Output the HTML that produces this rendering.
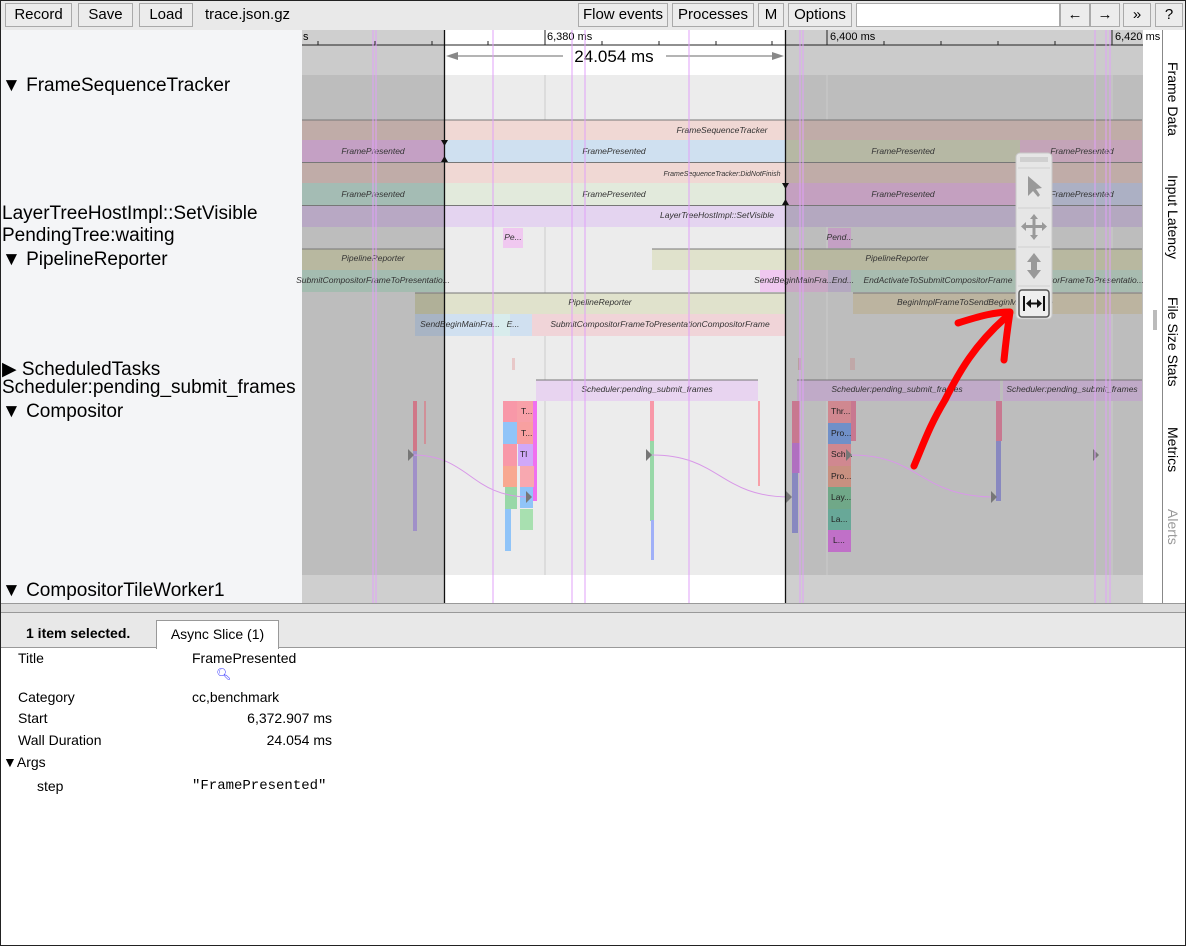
<!DOCTYPE html>
<html><head><meta charset="utf-8"><style>
*{box-sizing:border-box;margin:0;padding:0}
body{width:1186px;height:946px;position:relative;overflow:hidden;background:#fff;font-family:"Liberation Sans",sans-serif;color:#000}
.abs{position:absolute}
.btn{position:absolute;top:3px;height:24px;border:1px solid #aaa;background:#ececec;font-size:15px;line-height:22px;text-align:center}
.lbl{position:absolute;left:2px;font-size:19px;white-space:nowrap}
.side{position:absolute;left:1165px;writing-mode:vertical-rl;font-size:14px;white-space:nowrap}
.k{position:absolute;left:18px;font-size:14px}
.v{position:absolute;font-size:14px}
</style></head><body>
<div class="abs" style="left:0;top:0;width:1186px;height:946px;border:1px solid #222;z-index:50;pointer-events:none"></div>
<div class="abs" style="left:0;top:0;width:1186px;height:30px;background:#e9e9e9"></div>
<div class="btn" style="left:5px;width:67px">Record</div>
<div class="btn" style="left:78px;width:55px">Save</div>
<div class="btn" style="left:139px;width:54px">Load</div>
<div class="abs" style="left:205px;top:6px;font-size:15px">trace.json.gz</div>
<div class="btn" style="left:578px;width:90px">Flow events</div>
<div class="btn" style="left:672px;width:82px">Processes</div>
<div class="btn" style="left:758px;width:26px">M</div>
<div class="btn" style="left:788px;width:64px">Options</div>
<div class="btn" style="left:856px;width:204px;background:#fff"></div>
<div class="btn" style="left:1060px;width:30px">←</div>
<div class="btn" style="left:1090px;width:30px">→</div>
<div class="btn" style="left:1123px;width:28px">»</div>
<div class="btn" style="left:1155px;width:28px">?</div>
<div class="abs" style="left:0;top:30px;width:302px;height:573px;background:#f4f5f7"></div>
<div class="lbl" style="top:75px">▼ FrameSequenceTracker</div>
<div class="lbl" style="top:203px">LayerTreeHostImpl::SetVisible</div>
<div class="lbl" style="top:225px">PendingTree:waiting</div>
<div class="lbl" style="top:249px">▼ PipelineReporter</div>
<div class="lbl" style="top:358px">▶ ScheduledTasks</div>
<div class="lbl" style="top:377px">Scheduler:pending_submit_frames</div>
<div class="lbl" style="top:401px">▼ Compositor</div>
<div class="lbl" style="top:580px">▼ CompositorTileWorker1</div>
<svg class="abs" style="left:0;top:0" width="1186" height="946" font-family="Liberation Sans, sans-serif">
<rect x="302" y="30" width="841" height="15" fill="#cfcfcf"/>
<rect x="445" y="30" width="340" height="15" fill="#fff"/>
<rect x="302" y="45" width="841" height="30" fill="#cbcbcb"/>
<rect x="445" y="45" width="340" height="30" fill="#fff"/>
<rect x="302" y="75" width="841" height="500" fill="#bdbdbd"/>
<rect x="445" y="75" width="340" height="500" fill="#ececec"/>
<rect x="302" y="575" width="841" height="28" fill="#cfcfcf"/>
<rect x="445" y="575" width="340" height="28" fill="#fff"/>
<line x1="302" y1="45" x2="1143" y2="45" stroke="#222"/>
<g stroke="#222"><line x1="545" y1="30" x2="545" y2="45"/><line x1="827" y1="30" x2="827" y2="45"/><line x1="1112" y1="30" x2="1112" y2="45"/></g>
<g stroke="#222"><line x1="318" y1="41" x2="318" y2="45"/><line x1="375" y1="41" x2="375" y2="45"/><line x1="432" y1="41" x2="432" y2="45"/><line x1="488" y1="41" x2="488" y2="45"/><line x1="602" y1="41" x2="602" y2="45"/><line x1="659" y1="41" x2="659" y2="45"/><line x1="716" y1="41" x2="716" y2="45"/><line x1="772" y1="41" x2="772" y2="45"/><line x1="884" y1="41" x2="884" y2="45"/><line x1="941" y1="41" x2="941" y2="45"/><line x1="998" y1="41" x2="998" y2="45"/><line x1="1055" y1="41" x2="1055" y2="45"/></g>
<g font-size="11"><text x="303" y="40">s</text><text x="547" y="40">6,380 ms</text><text x="830" y="40">6,400 ms</text><text x="1115" y="40">6,420 ms</text></g>
<g stroke="#888" stroke-width="1.3"><line x1="450" y1="56" x2="563" y2="56"/><line x1="666" y1="56" x2="780" y2="56"/></g>
<polygon points="446,56 458,52 458,60" fill="#888"/><polygon points="784,56 772,52 772,60" fill="#888"/>
<text x="614" y="62" font-size="17" text-anchor="middle">24.054 ms</text>
<g stroke="#ccc"><line x1="545" y1="75" x2="545" y2="575"/><line x1="827" y1="75" x2="827" y2="575"/><line x1="1112" y1="75" x2="1112" y2="575"/></g>
<g stroke="none">
<rect x="302" y="120" width="143" height="20" fill="#c0aca8"/><rect x="445" y="120" width="340" height="20" fill="#f0d8d4"/><rect x="785" y="120" width="357" height="20" fill="#c0aca8"/>
<rect x="302" y="140" width="143" height="22" fill="#c4a0c4"/><rect x="445" y="140" width="340" height="22" fill="#cfe0f0"/><rect x="785" y="140" width="235" height="22" fill="#b6b8a4"/><rect x="1020" y="140" width="122" height="22" fill="#c4a4b8"/>
<rect x="302" y="163" width="143" height="20" fill="#c0aca8"/><rect x="445" y="163" width="340" height="20" fill="#f0d8d4"/><rect x="785" y="163" width="357" height="20" fill="#c0aca8"/>
<rect x="302" y="183" width="143" height="22" fill="#a4bcb4"/><rect x="445" y="183" width="340" height="22" fill="#e2eadc"/><rect x="785" y="183" width="235" height="22" fill="#c4a0c0"/><rect x="1020" y="183" width="122" height="22" fill="#acb0c4"/>
<rect x="302" y="206" width="143" height="21" fill="#b8a8c4"/><rect x="445" y="206" width="340" height="21" fill="#e4d4f0"/><rect x="785" y="206" width="357" height="21" fill="#b4a8c0"/>
<rect x="503" y="228" width="20" height="20" fill="#f0c8f0"/><rect x="828" y="228" width="23" height="20" fill="#c4a0c4"/>
<rect x="302" y="249" width="143" height="21" fill="#b8b8a0"/><rect x="652" y="249" width="133" height="21" fill="#e0e2cc"/><rect x="785" y="249" width="357" height="21" fill="#b8b8a0"/>
<rect x="302" y="270" width="143" height="22" fill="#a4bcb0"/><rect x="760" y="270" width="25" height="22" fill="#f0c8f0"/><rect x="785" y="270" width="43" height="22" fill="#c8a8c4"/><rect x="828" y="270" width="23" height="22" fill="#b4a8c0"/><rect x="851" y="270" width="291" height="22" fill="#a8bcb0"/>
<rect x="415" y="293" width="30" height="21" fill="#b0b098"/><rect x="445" y="293" width="340" height="21" fill="#e0e2cc"/><rect x="853" y="293" width="289" height="21" fill="#bcb4a0"/>
<rect x="415" y="314" width="30" height="22" fill="#a8b4c4"/><rect x="445" y="314" width="47" height="22" fill="#d0e0f0"/><rect x="492" y="314" width="18" height="22" fill="#d8ecec"/><rect x="510" y="314" width="22" height="22" fill="#d0e0f0"/><rect x="532" y="314" width="253" height="22" fill="#f0d4d8"/>
<rect x="512" y="358" width="3" height="12" fill="#e8c8c8"/><rect x="798" y="358" width="3" height="12" fill="#b8a0a0"/><rect x="850" y="358" width="5" height="12" fill="#c0a8a8"/>
<rect x="536" y="380" width="222" height="21" fill="#e8d4f0"/><rect x="797" y="380" width="203" height="21" fill="#c0aac8"/><rect x="1003" y="380" width="139" height="21" fill="#c0aac8"/>
</g>
<g stroke="#777"><line x1="302" y1="120" x2="1142" y2="120"/><line x1="302" y1="162.5" x2="1142" y2="162.5"/><line x1="302" y1="205.5" x2="1142" y2="205.5"/><line x1="302" y1="249" x2="445" y2="249"/><line x1="652" y1="249" x2="1142" y2="249"/><line x1="415" y1="293" x2="785" y2="293"/><line x1="853" y1="293" x2="1142" y2="293"/><line x1="536" y1="380" x2="758" y2="380"/><line x1="797" y1="380" x2="1142" y2="380"/></g>
<g font-size="8.5" font-style="italic" fill="#333" text-anchor="middle">
<text x="722" y="133">FrameSequenceTracker</text>
<text x="373" y="154">FramePresented</text><text x="614" y="154">FramePresented</text><text x="903" y="154">FramePresented</text><text x="1082" y="154">FramePresented</text>
<text x="722" y="176" font-size="7">FrameSequenceTracker:DidNotFinish</text>
<text x="373" y="197">FramePresented</text><text x="614" y="197">FramePresented</text><text x="903" y="197">FramePresented</text><text x="1082" y="197">FramePresented</text>
<text x="717" y="218">LayerTreeHostImpl::SetVisible</text>
<text x="513" y="240">Pe...</text><text x="840" y="240">Pend...</text>
<text x="373" y="261">PipelineReporter</text><text x="897" y="261">PipelineReporter</text>
<text x="373" y="283">SubmitCompositorFrameToPresentatio...</text><text x="794" y="283">SendBeginMainFra...</text><text x="843" y="283">End...</text><text x="938" y="283">EndActivateToSubmitCompositorFrame</text><text x="1088" y="283">...ositorFrameToPresentatio...</text>
<text x="600" y="305">PipelineReporter</text><text x="975" y="305">BeginImplFrameToSendBeginMainFrame</text>
<text x="460" y="327">SendBeginMainFra...</text><text x="513" y="327">E...</text><text x="660" y="327">SubmitCompositorFrameToPresentationCompositorFrame</text>
<text x="647" y="392">Scheduler:pending_submit_frames</text><text x="897" y="392">Scheduler:pending_submit_frames</text><text x="1072" y="392">Scheduler:pending_submit_frames</text>
</g>
<g>
<rect x="503" y="401" width="14" height="21" fill="#f898a8"/><rect x="503" y="422" width="14" height="22" fill="#90c4f8"/><rect x="503" y="444" width="14" height="22" fill="#f898a8"/><rect x="503" y="466" width="14" height="21" fill="#f8a890"/><rect x="505" y="487" width="12" height="22" fill="#98d8a8"/><rect x="505" y="509" width="6" height="42" fill="#90c4f8"/>
<rect x="517" y="401" width="20" height="21" fill="#f8a0a8"/><rect x="517" y="422" width="20" height="22" fill="#f8a0a0"/><rect x="518" y="444" width="15" height="22" fill="#d0a8f8"/><rect x="533" y="401" width="4" height="100" fill="#f070f0"/><rect x="520" y="466" width="14" height="21" fill="#f8a8b0"/><rect x="520" y="487" width="13" height="21" fill="#90c4f8"/><rect x="520" y="509" width="13" height="21" fill="#a8e0b0"/>
<rect x="413" y="401" width="4" height="50" fill="#d07888"/><rect x="413" y="451" width="4" height="80" fill="#a090c8"/><rect x="424" y="401" width="2" height="43" fill="#d09098"/>
<rect x="650" y="401" width="4" height="40" fill="#f898a8"/><rect x="650" y="441" width="4" height="80" fill="#98d8a8"/><rect x="651" y="520" width="3" height="40" fill="#a0b0f8"/><rect x="758" y="401" width="2" height="85" fill="#f8a0a8"/>
<rect x="792" y="401" width="8" height="42" fill="#c87890"/><rect x="792" y="443" width="8" height="30" fill="#b070c0"/><rect x="792" y="473" width="6" height="60" fill="#8888c0"/>
<rect x="828" y="401" width="23" height="22" fill="#d08890"/><rect x="828" y="423" width="23" height="21" fill="#7090c8"/><rect x="828" y="444" width="23" height="22" fill="#d08890"/><rect x="828" y="466" width="23" height="21" fill="#c89080"/><rect x="828" y="487" width="23" height="22" fill="#70a888"/><rect x="828" y="509" width="23" height="21" fill="#68a898"/><rect x="828" y="530" width="23" height="22" fill="#c070c8"/>
<rect x="851" y="401" width="5" height="40" fill="#c87890"/><rect x="996" y="401" width="6" height="40" fill="#c87890"/><rect x="996" y="441" width="5" height="60" fill="#8888c0"/>
</g>
<g font-size="8.5" fill="#222"><text x="521" y="414">T...</text><text x="521" y="436">T...</text><text x="520" y="457">Tl</text>
<text x="831" y="414">Thr...</text><text x="831" y="436">Pro...</text><text x="831" y="457">Sch...</text><text x="831" y="479">Pro...</text><text x="831" y="500">Lay...</text><text x="831" y="522">La...</text><text x="833" y="543">L...</text></g>
<g fill="none" stroke="#d898e8" stroke-width="1"><path d="M412 455 C470 455 470 497 530 497"/><path d="M652 455 C720 455 720 497 790 497"/><path d="M852 455 C920 455 920 497 995 497"/></g>
<g fill="#777"><polygon points="408,449 414,455 408,461"/><polygon points="526,491 532,497 526,503"/><polygon points="646,449 652,455 646,461"/><polygon points="786,491 792,497 786,503"/><polygon points="846,449 852,455 846,461"/><polygon points="991,491 997,497 991,503"/><polygon points="1093,449 1099,455 1093,461"/></g>
<g stroke="#e0a0f8" stroke-width="1"><line x1="373" y1="30" x2="373" y2="603"/><line x1="376" y1="30" x2="376" y2="603"/><line x1="493" y1="30" x2="493" y2="603"/><line x1="572" y1="30" x2="572" y2="603"/><line x1="585" y1="30" x2="585" y2="603"/><line x1="689" y1="30" x2="689" y2="603"/><line x1="800" y1="30" x2="800" y2="603"/><line x1="803" y1="30" x2="803" y2="603"/><line x1="1095" y1="30" x2="1095" y2="603"/><line x1="1106" y1="30" x2="1106" y2="603"/><line x1="1110" y1="30" x2="1110" y2="603"/></g>
<g stroke="#111" stroke-width="1.3"><line x1="444.5" y1="30" x2="444.5" y2="603"/><line x1="785.5" y1="30" x2="785.5" y2="603"/></g>
<polygon points="441,140 448,140 444.5,146" fill="#111"/><polygon points="441,162 448,162 444.5,156" fill="#111"/>
<polygon points="782,183 789,183 785.5,189" fill="#111"/><polygon points="782,205 789,205 785.5,199" fill="#111"/>
<rect x="1143" y="67" width="19" height="536" fill="#fff"/>
<rect x="1153" y="310" width="4" height="20" fill="#bbb"/>
<line x1="1162.5" y1="30" x2="1162.5" y2="603" stroke="#888"/>
<rect x="1016" y="153" width="36" height="166" rx="4" fill="#e6e6e6" stroke="#c8c8c8"/>
<rect x="1020" y="157" width="28" height="5" fill="#d0d0d0"/>
<g stroke="#d0d0d0"><line x1="1018" y1="168" x2="1050" y2="168"/><line x1="1018" y1="208" x2="1050" y2="208"/><line x1="1018" y1="247" x2="1050" y2="247"/><line x1="1018" y1="286" x2="1050" y2="286"/></g>
<polygon points="1028,176 1028,196 1033,191 1038,197 1040,195 1036,189 1042,188" fill="#999"/>
<g fill="#999"><rect x="1025" y="225" width="18" height="3"/><rect x="1032.5" y="218" width="3" height="18"/><polygon points="1034,214 1030,219 1038,219"/><polygon points="1034,240 1030,235 1038,235"/><polygon points="1021,226.5 1026,222 1026,231"/><polygon points="1047,226.5 1042,222 1042,231"/></g>
<g fill="#999"><rect x="1031" y="258" width="6" height="16"/><polygon points="1034,253 1027,262 1041,262"/><polygon points="1034,279 1027,270 1041,270"/></g>
<rect x="1019" y="290" width="30" height="27" rx="3" fill="#eee" stroke="#555" stroke-width="1.5"/>
<g stroke="#111" stroke-width="2"><line x1="1024" y1="296" x2="1024" y2="311"/><line x1="1044" y1="296" x2="1044" y2="311"/><line x1="1027" y1="303.5" x2="1041" y2="303.5"/></g>
<polygon points="1026,303.5 1031,299 1031,308" fill="#111"/><polygon points="1042,303.5 1037,299 1037,308" fill="#111"/>
<path d="M914 466 C925 440 930 425 945 400 C960 370 975 345 1005 318" fill="none" stroke="#f00" stroke-width="7" stroke-linecap="round"/>
<path d="M958 323 C980 316 995 312 1010 312 C1008 325 1006 340 1004 360" fill="none" stroke="#f00" stroke-width="7" stroke-linecap="round" stroke-linejoin="round"/>
</svg>
<div class="side" style="top:62px">Frame Data</div>
<div class="side" style="top:175px">Input Latency</div>
<div class="side" style="top:297px">File Size Stats</div>
<div class="side" style="top:427px">Metrics</div>
<div class="side" style="top:509px;color:#999">Alerts</div>
<div class="abs" style="left:0;top:603px;width:1186px;height:10px;background:#dcdcdc;border-top:1px solid #999;border-bottom:1px solid #999"></div>
<div class="abs" style="left:0;top:613px;width:1186px;height:35px;background:#e8e8e8;border-bottom:1px solid #999"></div>
<div class="abs" style="left:26px;top:625px;font-size:14px;font-weight:bold">1 item selected.</div>
<div class="abs" style="left:156px;top:620px;width:123px;height:29px;background:#fff;border:1px solid #999;border-bottom:none;font-size:14px;text-align:center;line-height:27px">Async Slice (1)</div>
<div class="k" style="top:650px">Title</div><div class="v" style="left:192px;top:650px">FramePresented</div>
<div class="v" style="left:216px;top:667px;font-size:12px;color:#33f">🔍︎</div>
<div class="k" style="top:689px">Category</div><div class="v" style="left:192px;top:689px">cc,benchmark</div>
<div class="k" style="top:710px">Start</div><div class="v" style="left:192px;top:710px;width:140px;text-align:right">6,372.907 ms</div>
<div class="k" style="top:732px">Wall Duration</div><div class="v" style="left:192px;top:732px;width:140px;text-align:right">24.054 ms</div>
<div class="v" style="left:3px;top:754px">▼Args</div>
<div class="v" style="left:37px;top:778px">step</div>
<div class="v" style="left:192px;top:778px;font-family:'Liberation Mono',monospace">"FramePresented"</div>
</body></html>
